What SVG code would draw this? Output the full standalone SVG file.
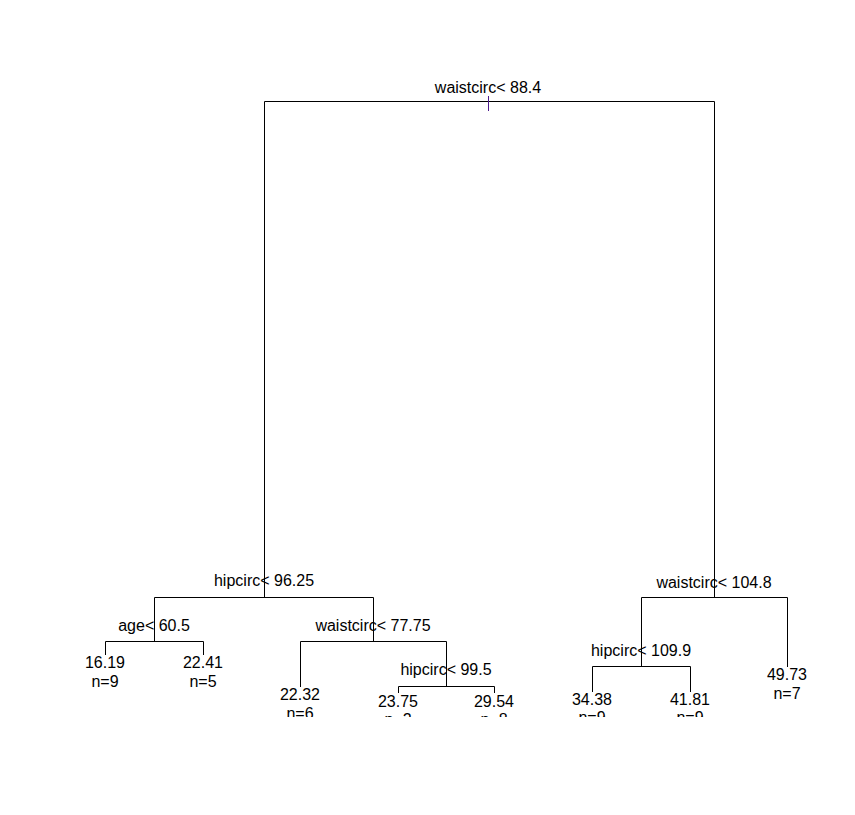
<svg xmlns="http://www.w3.org/2000/svg" width="855" height="815" viewBox="0 0 855 815">
<defs>
<clipPath id="plotclip"><rect x="0" y="0" width="855" height="717"/></clipPath>
<style>
.c{fill:none;stroke:#000;stroke-width:1}
text{font-family:"Liberation Sans",Arial,sans-serif;font-size:16px;fill:#000;text-anchor:middle}
</style>
</defs>
<rect width="855" height="815" fill="#fff"/>
<g clip-path="url(#plotclip)">
<g id="connectors">
<path class="c" d="M264.5,597 V101.5 H714.5 V597"/>
<path class="c" d="M154.5,641 V597.5 H373.5 V641"/>
<path class="c" d="M105.5,655 V641.5 H203.5 V655"/>
<path class="c" d="M300.5,687 V641.5 H446.5 V686"/>
<path class="c" d="M398.5,693 V686.5 H494.5 V693"/>
<path class="c" d="M641.5,666 V597.5 H787.5 V667"/>
<path class="c" d="M592.5,692 V666.5 H690.5 V692"/>
<line x1="488.5" y1="96" x2="488.5" y2="111" stroke="#4b1a8c" stroke-width="1"/>
</g>
<g id="n-root"><text x="488" y="93">waistcirc&lt; 88.4</text></g>
<g id="n-hip9625"><text x="264" y="586">hipcirc&lt; 96.25</text></g>
<g id="n-age"><text x="154" y="631">age&lt; 60.5</text></g>
<g id="n-leaf1"><text x="105" y="668">16.19</text><text x="105" y="687">n=9</text></g>
<g id="n-leaf2"><text x="203" y="668">22.41</text><text x="203" y="687">n=5</text></g>
<g id="n-waist7775"><text x="373" y="631">waistcirc&lt; 77.75</text></g>
<g id="n-leaf3"><text x="300" y="700">22.32</text><text x="300" y="719">n=6</text></g>
<g id="n-hip995"><text x="446" y="675">hipcirc&lt; 99.5</text></g>
<g id="n-leaf4"><text x="398" y="707">23.75</text><text x="398" y="725">n=2</text></g>
<g id="n-leaf5"><text x="494" y="707">29.54</text><text x="494" y="725">n=8</text></g>
<g id="n-waist1048"><text x="714" y="588">waistcirc&lt; 104.8</text></g>
<g id="n-hip1099"><text x="641" y="656">hipcirc&lt; 109.9</text></g>
<g id="n-leaf6"><text x="592" y="705">34.38</text><text x="592" y="723">n=9</text></g>
<g id="n-leaf7"><text x="690" y="705">41.81</text><text x="690" y="723">n=9</text></g>
<g id="n-leaf8"><text x="787" y="680">49.73</text><text x="787" y="699">n=7</text></g>
</g>
</svg>
